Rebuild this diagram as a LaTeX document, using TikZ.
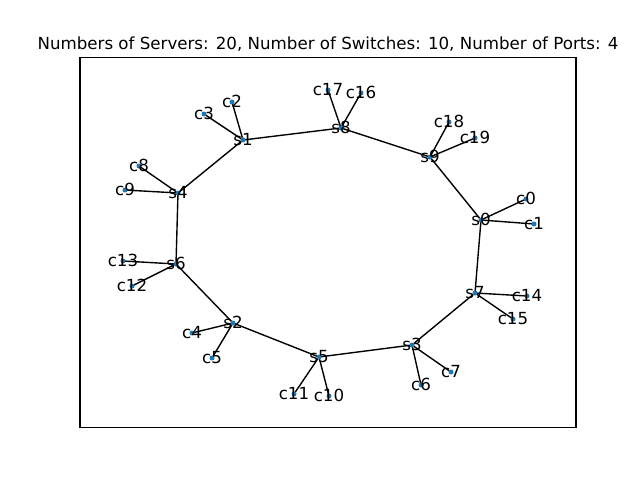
\documentclass[tikz,border=0pt]{standalone}
\usepackage{fontspec}
\setmainfont{DejaVu Sans}
\definecolor{nodeblue}{HTML}{1F77B4}
\begin{document}
\begin{tikzpicture}[x=0.72pt,y=-0.72pt,
  dot/.style={circle,fill=nodeblue,inner sep=0pt,minimum size=3.6pt},
  lbl/.style={font=\fontsize{12}{14}\selectfont,inner sep=0pt,text height=0.729em,text depth=0pt,anchor=center},
  edge/.style={black,line width=1pt}]
\useasboundingbox (0,0) rectangle (640,480);
\draw[line width=0.8pt] (80,57.6) rectangle (576,427.2);
\node[font=\fontsize{12}{14}\selectfont,anchor=base,inner sep=0pt] (title) at (328,49.5) {Numbers of Servers: 20, Number of Switches: 10, Number of Ports: 4};
% positions
\foreach \n/\x/\y in {s0/481/220, c0/526/199, c1/534/224, s7/475/293, c14/527/296, c15/513/319,
  s3/412/345, c6/421/385, c7/451/372, s5/319/357, c11/294/394, c10/329/396,
  s2/233/323, c4/192/333, c5/212/358, s6/176/264, c13/123/261, c12/132/286,
  s4/178/193, c8/139/166, c9/125/190, s1/243/140, c3/204/114, c2/232/102,
  s8/341/128, c17/328/90, c16/361/93, s9/430/157, c18/449/122, c19/475/138}
  {\coordinate (\n) at (\x,\y);}
% edges
\foreach \a/\b in {s0/s7, s7/s3, s3/s5, s5/s2, s2/s6, s6/s4, s4/s1, s1/s8, s8/s9, s9/s0,
  s0/c0, s0/c1, s7/c14, s7/c15, s3/c6, s3/c7, s5/c11, s5/c10, s2/c4, s2/c5,
  s6/c13, s6/c12, s4/c8, s4/c9, s1/c3, s1/c2, s8/c17, s8/c16, s9/c18, s9/c19}
  {\draw[edge] (\a) -- (\b);}
% nodes and labels
\foreach \n in {s0,c0,c1,s7,c14,c15,s3,c6,c7,s5,c11,c10,s2,c4,c5,s6,c13,c12,s4,c8,c9,s1,c3,c2,s8,c17,c16,s9,c18,c19}
  {\node[dot] (d\n) at (\n) {};
   \node[lbl] (l\n) at (\n) {\n};}
\end{tikzpicture}
\end{document}
